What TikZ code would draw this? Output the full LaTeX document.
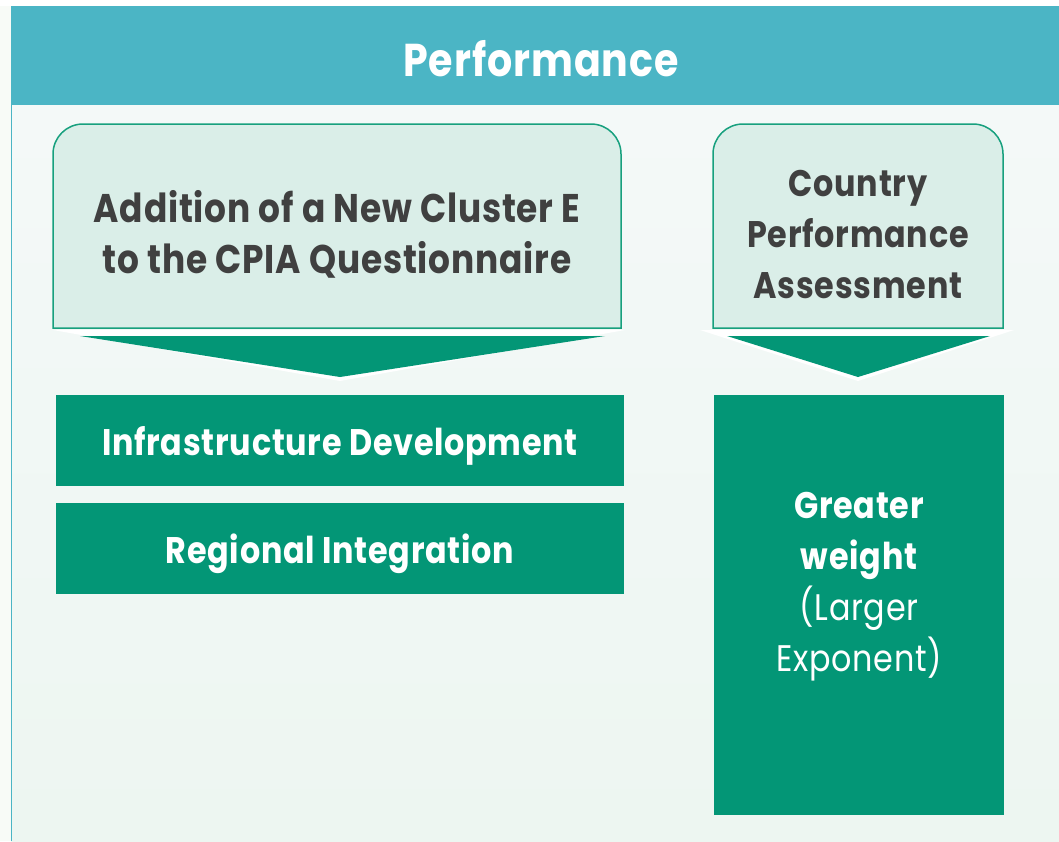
\documentclass[tikz,border=0pt]{standalone}
\usepackage{fontspec}
\setmainfont{Poppins}[FakeStretch=0.86,LetterSpace=2]
\definecolor{hdr}{HTML}{4BB5C5}
\definecolor{bodytop}{HTML}{F4F9F8}
\definecolor{bodybot}{HTML}{EDF6F1}
\definecolor{sidebg}{HTML}{F8FBF7}
\definecolor{callfill}{HTML}{DAEEE8}
\definecolor{callline}{HTML}{17A07E}
\definecolor{grn}{HTML}{039676}
\definecolor{txt}{HTML}{404040}
\tikzset{
  calltext/.style={text=txt, align=center, font=\bfseries\fontsize{37}{51}\selectfont},
  boxtext/.style={text=white, align=center, font=\bfseries\fontsize{37}{51}\selectfont},
  callbox/.style={fill=callfill, draw=callline, line width=1.5pt},
  greenbox/.style={fill=grn},
}
\begin{document}
\begin{tikzpicture}[x=1pt,y=-1pt]
\useasboundingbox (0,0) rectangle (1059,841);
\fill[white] (0,0) rectangle (1059,841);
\fill[sidebg] (0,6) rectangle (11,841);
\shade[top color=bodytop,bottom color=bodybot] (11,105) rectangle (1059,841);
\fill[hdr] (11,6) rectangle (1059,105);
\draw[hdr, line width=1pt] (11.5,6) -- (11.5,841);
\node[text=white, font=\bfseries\fontsize{46}{50}\selectfont] (title) at (541,59) {Performance};
% left callout
\draw[callbox] (53,328) -- (53,200) [rounded corners=30pt] -- (53,124) -- (621,124) -- (621,200) [sharp corners] -- (621,328) -- cycle;
\fill[white] (53,330) -- (625,330) -- (340,381) -- cycle;
\fill[grn] (80,336) -- (605,336) -- (340,377) -- cycle;
\node[calltext, font=\bfseries\fontsize{40}{51}\selectfont] (c1) at (337,234) {Addition of a New Cluster E\\to the CPIA Questionnaire};
% right callout
\draw[callbox] (713,328) -- (713,200) [rounded corners=30pt] -- (713,124) -- (1003,124) -- (1003,200) [sharp corners] -- (1003,328) -- cycle;
\fill[white] (700,330) -- (1014,330) -- (858,381) -- cycle;
\fill[grn] (727,336) -- (990,336) -- (858,377) -- cycle;
\node[calltext] (c2) at (858,235) {Country\\Performance\\Assessment};
% boxes
\fill[grn] (56,395) rectangle (624,486);
\node[boxtext] (b1) at (340,446) {Infrastructure Development};
\fill[grn] (56,503) rectangle (624,594);
\node[boxtext] (b2) at (340,554) {Regional Integration};
\fill[grn] (714,395) rectangle (1004,815);
\node[boxtext] (b3) at (859,587) {Greater\\weight\\{\mdseries (Larger}\\{\mdseries Exponent)}};
\end{tikzpicture}
\end{document}
